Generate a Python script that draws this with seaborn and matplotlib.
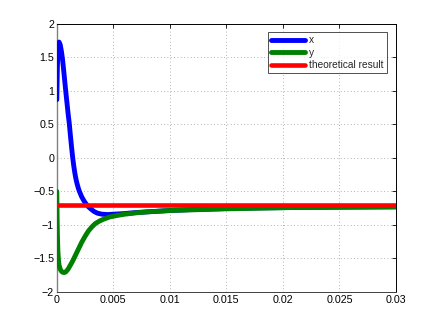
import matplotlib
matplotlib.use("Agg")
import matplotlib.pyplot as plt
import seaborn as sns
import pandas as pd

# --- data ---
t_x = [0, 0.00005, 0.0001, 0.00015, 0.0002, 0.0003, 0.0004, 0.0005, 0.0006, 0.0007,
       0.0008, 0.0009, 0.0010, 0.0011, 0.0012, 0.0013, 0.0014, 0.0015, 0.0016, 0.0017,
       0.0018, 0.0019, 0.0020, 0.0022, 0.0024, 0.0026, 0.0028, 0.0030, 0.0033, 0.0036,
       0.0040, 0.0045, 0.005, 0.006, 0.007, 0.008, 0.009, 0.010, 0.012, 0.015,
       0.018, 0.021, 0.025, 0.03]
x_vals = [0.87, 1.35, 1.62, 1.71, 1.73, 1.69, 1.60, 1.48, 1.32, 1.15,
          0.98, 0.82, 0.66, 0.52, 0.34, 0.17, 0.01, -0.12, -0.23, -0.32,
          -0.39, -0.45, -0.50, -0.58, -0.64, -0.69, -0.73, -0.76, -0.80, -0.825,
          -0.84, -0.845, -0.84, -0.83, -0.815, -0.805, -0.795, -0.785, -0.77, -0.755,
          -0.745, -0.74, -0.735, -0.73]

t_y = [0, 0.00003, 0.00006, 0.0001, 0.00015, 0.0002, 0.0003, 0.0004, 0.0005, 0.0006,
       0.0007, 0.0008, 0.0009, 0.0010, 0.0012, 0.0014, 0.0016, 0.0018, 0.0020, 0.0022,
       0.0025, 0.0028, 0.0031, 0.0034, 0.0038, 0.0042, 0.0047, 0.0053, 0.006, 0.007,
       0.008, 0.009, 0.010, 0.012, 0.015, 0.018, 0.021, 0.025, 0.03]
y_vals = [-0.5, -0.9, -1.2, -1.4, -1.53, -1.6, -1.66, -1.69, -1.705, -1.71,
          -1.71, -1.70, -1.68, -1.66, -1.60, -1.54, -1.47, -1.40, -1.33, -1.26,
          -1.17, -1.09, -1.03, -0.98, -0.94, -0.91, -0.88, -0.86, -0.84, -0.82,
          -0.805, -0.795, -0.785, -0.775, -0.76, -0.75, -0.74, -0.735, -0.73]

t_theory = [0, 0.03]
theory_vals = [-0.7, -0.7]

x_ticks = [0, 0.005, 0.01, 0.015, 0.02, 0.025, 0.03]
x_tick_labels = ["0", "0.005", "0.01", "0.015", "0.02", "0.025", "0.03"]
y_ticks = [-2, -1.5, -1, -0.5, 0, 0.5, 1, 1.5, 2]
y_tick_labels = ["\u22122", "\u22121.5", "\u22121", "\u22120.5", "0", "0.5", "1", "1.5", "2"]

sns.set_style("white")
plt.rcParams["font.family"] = ["Liberation Sans", "DejaVu Sans"]

fig = plt.figure(figsize=(4.37, 3.28), dpi=100)
ax = fig.add_axes([0.13, 0.11, 0.776, 0.817])

df_x = pd.DataFrame({"t": t_x, "v": x_vals})
df_y = pd.DataFrame({"t": t_y, "v": y_vals})
df_r = pd.DataFrame({"t": t_theory, "v": theory_vals})

sns.lineplot(data=df_x, x="t", y="v", ax=ax, color="#0000ff", lw=3.5,
             estimator=None, sort=False, label="x", zorder=3)
sns.lineplot(data=df_y, x="t", y="v", ax=ax, color="#008000", lw=3.5,
             estimator=None, sort=False, label="y", zorder=3)
sns.lineplot(data=df_r, x="t", y="v", ax=ax, color="#ff0000", lw=3.3,
             estimator=None, sort=False, label="theoretical result", zorder=4)

ax.set_xlim(0, 0.03)
ax.set_ylim(-2, 2)
ax.set_xticks(x_ticks)
ax.set_xticklabels(x_tick_labels)
ax.set_yticks(y_ticks)
ax.set_yticklabels(y_tick_labels)
ax.set_xlabel("")
ax.set_ylabel("")
ax.tick_params(direction="in", length=3, width=0.6, labelsize=7.7, colors="#000000",
               top=True, right=True, pad=2)
ax.grid(True, linestyle=(0, (1, 3)), color="#9a9a9a", linewidth=0.6)
for s in ax.spines.values():
    s.set_color("#000000")
    s.set_linewidth(0.7)
ax.spines["left"].set_color("#808080")
ax.spines["left"].set_linewidth(1.0)
ax.spines["bottom"].set_color("#404040")

leg = ax.legend(loc="upper right", fontsize=7.3, frameon=True, fancybox=False,
                edgecolor="#000000", handlelength=3.4, handletextpad=0.4,
                labelspacing=0.25, borderpad=0.3, borderaxespad=0.4,
                bbox_to_anchor=(0.985, 0.985))
leg.get_frame().set_linewidth(0.6)

fig.savefig("out.png", dpi=100)
